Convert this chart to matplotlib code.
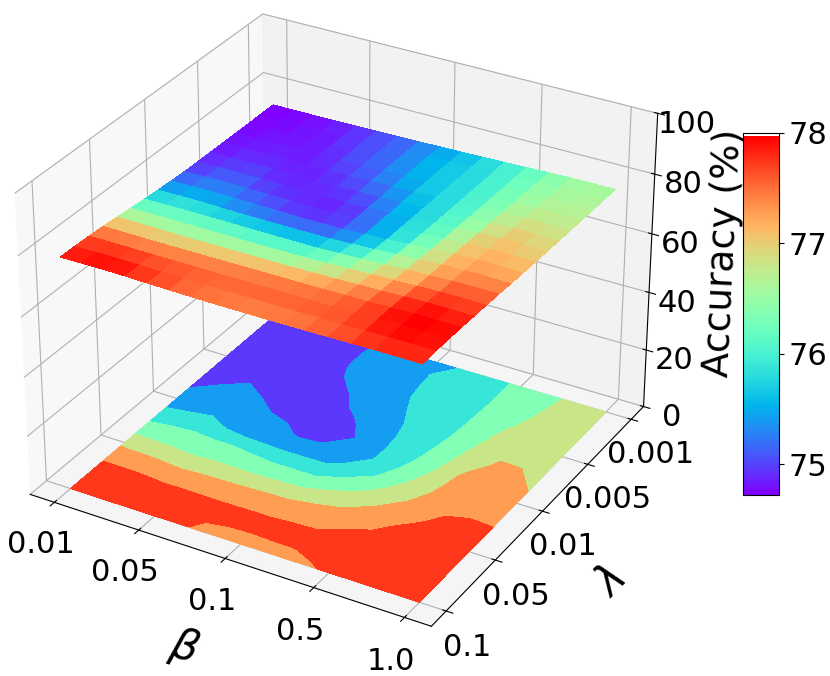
import numpy as np
import matplotlib
matplotlib.use("Agg")
import matplotlib.pyplot as plt

beta_labels = ["0.01", "0.05", "0.1", "0.5", "1.0"]
lambda_labels = ["0.1", "0.05", "0.01", "0.005", "0.001"]
z_ticks = [0, 20, 40, 60, 80, 100]
cbar_ticks = [75, 76, 77, 78]

# accuracy, one list per beta position, front to back in lambda
col00 = [77.85, 77.80, 77.62, 77.30, 76.85, 76.38, 75.95, 75.55, 75.25, 75.00, 74.90, 74.84, 74.80, 74.76, 74.73, 74.71, 74.70]
col01 = [77.92, 77.83, 77.62, 77.28, 76.84, 76.38, 76.02, 75.60, 75.31, 75.11, 74.98, 74.89, 74.84, 74.80, 74.76, 74.74, 74.73]
col02 = [77.98, 77.85, 77.62, 77.25, 76.82, 76.35, 76.06, 75.65, 75.38, 75.22, 75.07, 74.95, 74.88, 74.83, 74.80, 74.77, 74.76]
col03 = [77.85, 77.75, 77.58, 77.21, 76.75, 76.31, 76.01, 75.50, 75.28, 75.11, 74.98, 74.90, 74.86, 74.83, 74.82, 74.82, 74.83]
col04 = [77.70, 77.65, 77.57, 77.25, 76.78, 76.35, 76.00, 75.40, 75.18, 75.00, 74.90, 74.86, 74.84, 74.84, 74.85, 74.87, 74.90]
col05 = [77.57, 77.59, 77.56, 77.27, 76.79, 76.32, 75.94, 75.37, 75.08, 74.95, 74.88, 74.87, 74.90, 74.98, 75.02, 75.02, 75.00]
col06 = [77.45, 77.53, 77.55, 77.30, 76.80, 76.30, 75.88, 75.35, 74.96, 74.86, 74.88, 74.93, 75.00, 75.08, 75.10, 75.10, 75.10]
col07 = [77.40, 77.52, 77.55, 77.32, 76.83, 76.33, 75.87, 75.36, 75.00, 74.88, 74.92, 75.05, 75.15, 75.20, 75.22, 75.22, 75.22]
col08 = [77.36, 77.52, 77.55, 77.33, 76.85, 76.35, 75.85, 75.38, 75.02, 75.00, 75.08, 75.18, 75.32, 75.43, 75.45, 75.47, 75.40]
col09 = [77.36, 77.53, 77.56, 77.37, 76.96, 76.52, 76.07, 75.65, 75.38, 75.36, 75.38, 75.45, 75.55, 75.60, 75.62, 75.60, 75.50]
col10 = [77.38, 77.53, 77.56, 77.40, 77.07, 76.70, 76.30, 75.92, 75.65, 75.65, 75.68, 75.70, 75.72, 75.72, 75.72, 75.72, 75.70]
col11 = [77.46, 77.58, 77.60, 77.49, 77.24, 76.94, 76.63, 76.33, 76.14, 76.00, 75.93, 75.88, 75.86, 75.86, 75.86, 75.88, 75.90]
col12 = [77.55, 77.62, 77.65, 77.58, 77.40, 77.18, 76.95, 76.75, 76.56, 76.42, 76.32, 76.25, 76.20, 76.17, 76.14, 76.12, 76.10]
col13 = [77.64, 77.76, 77.82, 77.79, 77.62, 77.39, 77.20, 77.10, 77.03, 76.97, 76.80, 76.65, 76.55, 76.45, 76.38, 76.33, 76.30]
col14 = [77.72, 77.90, 77.98, 78.00, 77.85, 77.62, 77.46, 77.30, 77.20, 77.12, 77.04, 76.95, 76.80, 76.70, 76.60, 76.55, 76.50]
col15 = [77.74, 77.88, 77.95, 77.95, 77.82, 77.66, 77.52, 77.30, 77.20, 77.12, 77.03, 76.95, 76.80, 76.70, 76.64, 76.59, 76.55]
col16 = [77.75, 77.85, 77.90, 77.88, 77.72, 77.62, 77.50, 77.28, 77.12, 77.00, 76.92, 76.84, 76.76, 76.71, 76.67, 76.63, 76.60]

Z = np.array([col00, col01, col02, col03, col04, col05, col06, col07, col08,
              col09, col10, col11, col12, col13, col14, col15, col16]).T

n_rows, n_cols = Z.shape
X, Y = np.meshgrid(np.linspace(0, 4, n_cols), np.linspace(0, 4, n_rows))

fig = plt.figure(figsize=(8.3, 6.76), dpi=100)
ax = fig.add_axes([-0.088, 0.036, 0.98, 1.0], projection="3d")
ax.set_box_aspect((4.1, 4.1, 3.06), zoom=1.055)

surf = ax.plot_surface(X, Y, Z, rstride=1, cstride=1, cmap="rainbow", linewidth=0, antialiased=False)
ax.contourf(X, Y, Z, zdir="z", offset=0, cmap="rainbow")

ax.set_zlim(0, 100)
ax.set_xticks(range(5))
ax.set_xticklabels(beta_labels, fontsize=22)
ax.set_yticks(range(5))
ax.set_yticklabels(lambda_labels, fontsize=22)
ax.set_zticks(z_ticks)
ax.tick_params(axis="z", labelsize=22, pad=4)
ax.tick_params(axis="x", pad=6)
ax.tick_params(axis="y", pad=5)
ax.set_xlabel(r"$\beta$", fontsize=30, labelpad=22)
ax.set_ylabel(r"$\lambda$", fontsize=30, labelpad=22)
ax.set_zlabel("Accuracy (%)", fontsize=27, labelpad=10)

cax = fig.add_axes([743 / 830, 1 - 495 / 676, 36 / 830, 362 / 676])
cbar = fig.colorbar(surf, cax=cax)
cbar.set_ticks(cbar_ticks)
cbar.ax.tick_params(labelsize=22)

fig.savefig("out.png", dpi=100)
